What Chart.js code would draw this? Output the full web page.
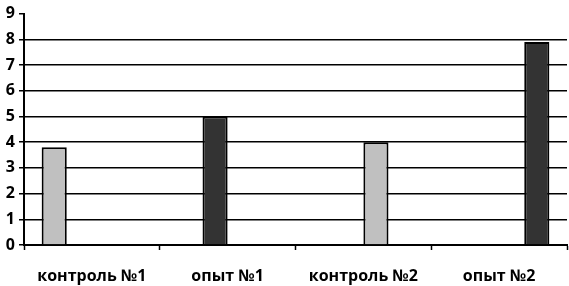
<!DOCTYPE html>
<html>
<head>
<meta charset="utf-8">
<script src="https://cdn.jsdelivr.net/npm/chart.js@4"></script>
<style>
  html, body { margin: 0; padding: 0; background: #fff; }
  #wrap { width: 569px; height: 286px; }
</style>
</head>
<body>
<div id="wrap"><canvas id="canvas" width="569" height="286"></canvas></div>
<script>
// chart values
const categories = ['контроль №1', 'опыт №1', 'контроль №2', 'опыт №2'];
const values = [3.8, 5, 4, 7.9];
const barColors = ['#c0c0c0', '#333333', '#c0c0c0', '#333333'];
const yTicks = [0, 1, 2, 3, 4, 5, 6, 7, 8, 9];

// every bar is its own series, so it sits in its own slot of the group
const datasets = values.map((v, i) => ({
  data: categories.map((c, j) => (j === i ? v : null)),
  backgroundColor: barColors[i],
  borderColor: '#000',
  borderWidth: 2,
  barPercentage: 1,
  categoryPercentage: 0.74
}));

let ctx = document.getElementById('canvas').getContext('2d');
let chart = new Chart(ctx, {
  type: 'bar',
  data: { labels: categories, datasets: datasets },
  options: {
    responsive: false,
    animation: false,
    layout: { padding: { top: 6, right: 2, left: 0, bottom: 0 } },
    plugins: { legend: { display: false }, tooltip: { enabled: false } },
    scales: {
      x: {
        grid: {
          drawOnChartArea: false,
          tickLength: 5,
          tickColor: '#000',
          tickWidth: 1.5
        },
        border: { color: '#000', width: 2 },
        ticks: {
          color: '#000',
          padding: 17,
          font: { family: 'Open Sans', weight: 'bold', size: 16 }
        },
        afterFit: (scale) => { scale.height = 41; }
      },
      y: {
        min: 0,
        max: 9,
        afterBuildTicks: (scale) => { scale.ticks = yTicks.map(v => ({ value: v })); },
        grid: {
          color: (c) => (c.tick && c.tick.value === 9 ? 'rgba(0,0,0,0)' : '#000'),
          lineWidth: 1.5,
          tickLength: 5,
          tickColor: '#000',
          tickWidth: 1.5
        },
        border: { color: '#000', width: 2 },
        ticks: {
          color: '#000',
          padding: 4,
          font: { family: 'Open Sans', weight: 'bold', size: 16 }
        },
        afterFit: (scale) => { scale.width = 24; }
      }
    }
  }
});
</script>
</body>
</html>
